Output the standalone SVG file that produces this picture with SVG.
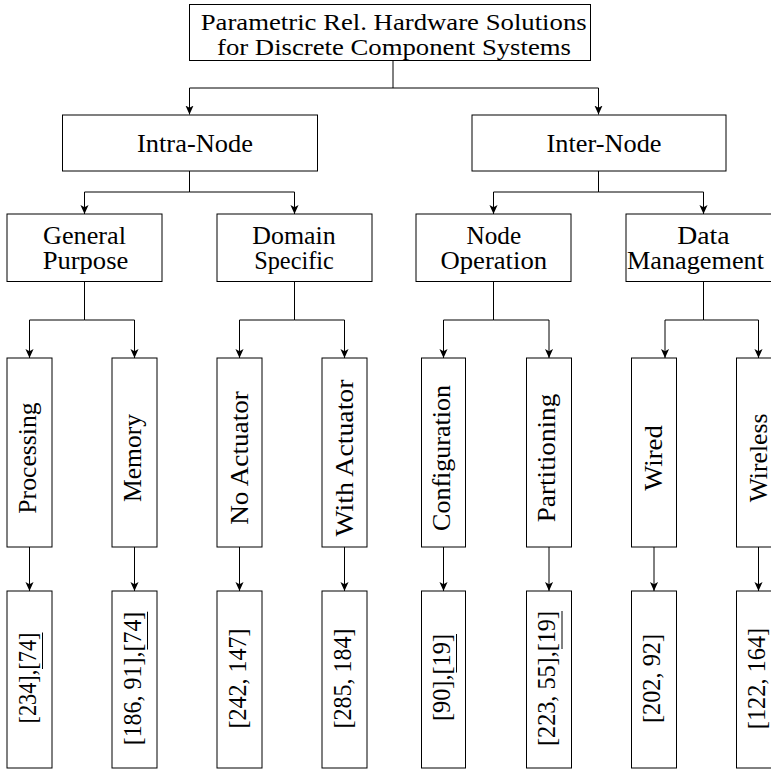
<svg xmlns="http://www.w3.org/2000/svg" width="771" height="769" viewBox="0 0 771 769">
  <style>
    .box { fill: #fff; stroke: #000; stroke-width: 1; }
    .t { font-family: "Liberation Serif", "DejaVu Serif", serif; font-size: 24.3px; fill: #000; text-anchor: middle; }
    .title { font-size: 22.5px; }
    .ts { text-anchor: start; }
    .wire { fill: none; stroke: #000; stroke-width: 1; }
    .ul { stroke: #000; stroke-width: 1; }
  </style>
  <defs>
    <marker id="arrow" viewBox="0 0 10 10" refX="10" refY="5" markerWidth="9" markerHeight="9" markerUnits="userSpaceOnUse" orient="auto">
      <path d="M0,0.5 L10,5 L0,9.5 L2.6,5 Z" fill="#000"/>
    </marker>
  </defs>
  <rect width="771" height="769" fill="#fff"/>

  <!-- connectors -->
  <g id="connectors">
    <path class="wire" d="M393,60 V88"/>
    <path class="wire" d="M393,88 H189.5 V114.5" marker-end="url(#arrow)"/>
    <path class="wire" d="M393,88 H598.5 V114.5" marker-end="url(#arrow)"/>

    <path class="wire" d="M189.5,171 V192"/>
    <path class="wire" d="M189.5,192 H84.5 V214" marker-end="url(#arrow)"/>
    <path class="wire" d="M189.5,192 H294.5 V214" marker-end="url(#arrow)"/>

    <path class="wire" d="M598.5,171 V192"/>
    <path class="wire" d="M598.5,192 H493.5 V214" marker-end="url(#arrow)"/>
    <path class="wire" d="M598.5,192 H703.5 V214" marker-end="url(#arrow)"/>

    <path class="wire" d="M84.5,281.5 V320"/>
    <path class="wire" d="M84.5,320 H29.5 V358" marker-end="url(#arrow)"/>
    <path class="wire" d="M84.5,320 H134.5 V358" marker-end="url(#arrow)"/>

    <path class="wire" d="M294.5,281.5 V320"/>
    <path class="wire" d="M294.5,320 H239.5 V358" marker-end="url(#arrow)"/>
    <path class="wire" d="M294.5,320 H344.5 V358" marker-end="url(#arrow)"/>

    <path class="wire" d="M493.5,281.5 V320"/>
    <path class="wire" d="M493.5,320 H443.5 V358" marker-end="url(#arrow)"/>
    <path class="wire" d="M493.5,320 H549 V358" marker-end="url(#arrow)"/>

    <path class="wire" d="M703.5,281.5 V320"/>
    <path class="wire" d="M703.5,320 H665 V358" marker-end="url(#arrow)"/>
    <path class="wire" d="M703.5,320 H758.5 V358" marker-end="url(#arrow)"/>

    <path class="wire" d="M29.5,547 V591" marker-end="url(#arrow)"/>
    <path class="wire" d="M134.5,547 V591" marker-end="url(#arrow)"/>
    <path class="wire" d="M239.5,547 V591" marker-end="url(#arrow)"/>
    <path class="wire" d="M344.5,547 V591" marker-end="url(#arrow)"/>
    <path class="wire" d="M443.5,547 V591" marker-end="url(#arrow)"/>
    <path class="wire" d="M549,547 V591" marker-end="url(#arrow)"/>
    <path class="wire" d="M654,547 V591" marker-end="url(#arrow)"/>
    <path class="wire" d="M758.5,547 V591" marker-end="url(#arrow)"/>
  </g>

  <!-- root -->
  <g id="root">
    <rect class="box" x="189.5" y="4.5" width="401" height="56"/>
    <text class="t title ts" x="200.7" y="29.5" textLength="386" lengthAdjust="spacingAndGlyphs">Parametric Rel. Hardware Solutions</text>
    <text class="t title ts" x="217" y="54.5" textLength="354" lengthAdjust="spacingAndGlyphs">for Discrete Component Systems</text>
  </g>

  <!-- first level -->
  <g id="intra-node">
    <rect class="box" x="62.5" y="115" width="255" height="56"/>
    <text class="t" x="195" y="151.5" textLength="116" lengthAdjust="spacingAndGlyphs">Intra-Node</text>
  </g>
  <g id="inter-node">
    <rect class="box" x="472" y="115" width="254" height="56"/>
    <text class="t" x="604" y="152" textLength="115" lengthAdjust="spacingAndGlyphs">Inter-Node</text>
  </g>

  <!-- second level -->
  <g id="general-purpose">
    <rect class="box" x="7" y="214" width="155" height="67.5"/>
    <text class="t" x="84.5" y="244" textLength="83" lengthAdjust="spacingAndGlyphs">General</text>
    <text class="t" x="85.5" y="269" textLength="85.6" lengthAdjust="spacingAndGlyphs">Purpose</text>
  </g>
  <g id="domain-specific">
    <rect class="box" x="217" y="214" width="155" height="67.5"/>
    <text class="t" x="294" y="244" textLength="83.4" lengthAdjust="spacingAndGlyphs">Domain</text>
    <text class="t" x="294" y="269" textLength="79.7" lengthAdjust="spacingAndGlyphs">Specific</text>
  </g>
  <g id="node-operation">
    <rect class="box" x="416" y="214" width="155" height="67.5"/>
    <text class="t" x="493.8" y="244" textLength="54.7" lengthAdjust="spacingAndGlyphs">Node</text>
    <text class="t" x="493.8" y="269" textLength="106.7" lengthAdjust="spacingAndGlyphs">Operation</text>
  </g>
  <g id="data-management">
    <rect class="box" x="626" y="214" width="155" height="67.5"/>
    <text class="t" x="703.3" y="244" textLength="52.3" lengthAdjust="spacingAndGlyphs">Data</text>
    <text class="t ts" x="627" y="269" textLength="137" lengthAdjust="spacingAndGlyphs">Management</text>
  </g>

  <!-- third level -->
  <g id="processing">
    <rect class="box" x="7" y="358" width="45" height="189"/>
    <g transform="translate(29.5,458) rotate(-90)"><text class="t" x="0" y="6" textLength="111.4" lengthAdjust="spacingAndGlyphs">Processing</text></g>
  </g>
  <g id="memory">
    <rect class="box" x="112" y="358" width="45" height="189"/>
    <g transform="translate(134.5,458) rotate(-90)"><text class="t" x="0" y="6" textLength="87.8" lengthAdjust="spacingAndGlyphs">Memory</text></g>
  </g>
  <g id="no-actuator">
    <rect class="box" x="217" y="358" width="45" height="189"/>
    <g transform="translate(239.5,458) rotate(-90)"><text class="t" x="0" y="8.4" textLength="133.7" lengthAdjust="spacingAndGlyphs">No Actuator</text></g>
  </g>
  <g id="with-actuator">
    <rect class="box" x="322" y="358" width="45" height="189"/>
    <g transform="translate(344.5,458) rotate(-90)"><text class="t" x="0" y="8.4" textLength="157" lengthAdjust="spacingAndGlyphs">With Actuator</text></g>
  </g>
  <g id="configuration">
    <rect class="box" x="421.5" y="358" width="44" height="189"/>
    <g transform="translate(443.5,458) rotate(-90)"><text class="t" x="0" y="6" textLength="145.9" lengthAdjust="spacingAndGlyphs">Configuration</text></g>
  </g>
  <g id="partitioning">
    <rect class="box" x="526.5" y="358" width="45" height="189"/>
    <g transform="translate(549,458) rotate(-90)"><text class="t" x="0" y="6" textLength="128.7" lengthAdjust="spacingAndGlyphs">Partitioning</text></g>
  </g>
  <g id="wired">
    <rect class="box" x="631.5" y="358" width="45" height="189"/>
    <g transform="translate(654,458) rotate(-90)"><text class="t" x="0" y="8.4" textLength="65.6" lengthAdjust="spacingAndGlyphs">Wired</text></g>
  </g>
  <g id="wireless">
    <rect class="box" x="736.5" y="358" width="45" height="189"/>
    <g transform="translate(759,458) rotate(-90)"><text class="t" x="0" y="8.4" textLength="88.7" lengthAdjust="spacingAndGlyphs">Wireless</text></g>
  </g>

  <!-- references -->
  <g id="ref-processing">
    <rect class="box" x="7" y="591" width="45" height="177"/>
    <g transform="translate(29.5,678) rotate(-90)">
      <text class="t" x="0" y="6" textLength="91" lengthAdjust="spacingAndGlyphs">[234],[74]</text>
      <line class="ul" x1="9" y1="13" x2="45.5" y2="13"/>
    </g>
  </g>
  <g id="ref-memory">
    <rect class="box" x="112" y="591" width="45" height="177"/>
    <g transform="translate(134.5,678.5) rotate(-90)">
      <text class="t" x="0" y="6" textLength="133.7" lengthAdjust="spacingAndGlyphs">[186, 91],[74]</text>
      <line class="ul" x1="29" y1="13" x2="66.8" y2="13"/>
    </g>
  </g>
  <g id="ref-no-actuator">
    <rect class="box" x="217" y="591" width="45" height="177"/>
    <g transform="translate(239.5,678.5) rotate(-90)">
      <text class="t" x="0" y="6" textLength="100" lengthAdjust="spacingAndGlyphs">[242, 147]</text>
    </g>
  </g>
  <g id="ref-with-actuator">
    <rect class="box" x="322" y="591" width="45" height="177"/>
    <g transform="translate(344.5,678.5) rotate(-90)">
      <text class="t" x="0" y="6" textLength="100" lengthAdjust="spacingAndGlyphs">[285, 184]</text>
    </g>
  </g>
  <g id="ref-configuration">
    <rect class="box" x="421.5" y="591" width="44" height="177"/>
    <g transform="translate(443.5,677.5) rotate(-90)">
      <text class="t" x="0" y="6" textLength="87" lengthAdjust="spacingAndGlyphs">[90],[19]</text>
      <line class="ul" x1="5" y1="13" x2="43.5" y2="13"/>
    </g>
  </g>
  <g id="ref-partitioning">
    <rect class="box" x="526.5" y="591" width="45" height="177"/>
    <g transform="translate(549,678.5) rotate(-90)">
      <text class="t" x="0" y="6" textLength="135" lengthAdjust="spacingAndGlyphs">[223, 55],[19]</text>
      <line class="ul" x1="29.5" y1="13" x2="67.5" y2="13"/>
    </g>
  </g>
  <g id="ref-wired">
    <rect class="box" x="631.5" y="591" width="45" height="177"/>
    <g transform="translate(654,678.5) rotate(-90)">
      <text class="t" x="0" y="6" textLength="89" lengthAdjust="spacingAndGlyphs">[202, 92]</text>
    </g>
  </g>
  <g id="ref-wireless">
    <rect class="box" x="736.5" y="591" width="45" height="177"/>
    <g transform="translate(759,678.5) rotate(-90)">
      <text class="t" x="0" y="6" textLength="101.3" lengthAdjust="spacingAndGlyphs">[122, 164]</text>
    </g>
  </g>
</svg>
